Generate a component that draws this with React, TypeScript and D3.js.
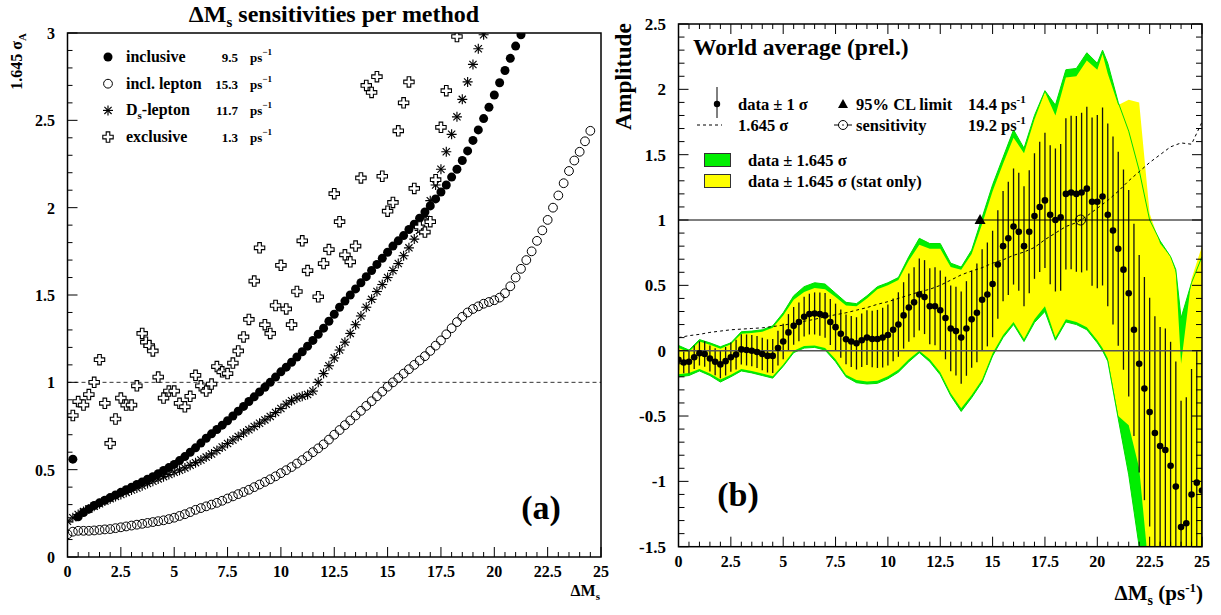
import React from 'react';
import * as d3 from 'd3';

const FONT = "'Liberation Serif','Times New Roman',Times,serif";
const STEP = 0.25;

// ---------- panel (a): sensitivities (1.645 sigma_A) ----------
const inclusiveStart = 0.25;
const inclusiveVals = [
  0.56, 0.23, 0.255, 0.275, 0.295, 0.31, 0.325, 0.34, 0.355, 0.37, 0.385,
  0.4, 0.415, 0.43, 0.445, 0.46, 0.477, 0.495, 0.512, 0.53, 0.552,
  0.575, 0.6, 0.625, 0.652, 0.68, 0.705, 0.73, 0.755, 0.78, 0.807,
  0.835, 0.862, 0.89, 0.917, 0.945, 0.972, 1.0, 1.03, 1.06, 1.087,
  1.115, 1.145, 1.175, 1.207, 1.24, 1.275, 1.31, 1.35, 1.39, 1.43,
  1.465, 1.5, 1.535, 1.57, 1.605, 1.64, 1.675, 1.71, 1.745, 1.78,
  1.81, 1.84, 1.875, 1.905, 1.94, 1.975, 2.01, 2.05, 2.09, 2.13,
  2.175, 2.22, 2.27, 2.325, 2.385, 2.445, 2.51, 2.575, 2.645, 2.715,
  2.785, 2.855, 2.925, 2.99,
];
const inclLeptonStart = 0;
const inclLeptonVals = [
  0.13, 0.145, 0.15, 0.15, 0.15, 0.152, 0.155, 0.158, 0.16, 0.165,
  0.17, 0.175, 0.18, 0.185, 0.19, 0.195, 0.2, 0.205, 0.21, 0.217,
  0.225, 0.235, 0.245, 0.257, 0.27, 0.28, 0.29, 0.3, 0.31, 0.322,
  0.335, 0.347, 0.36, 0.372, 0.385, 0.4, 0.415, 0.43, 0.445, 0.462,
  0.48, 0.497, 0.515, 0.535, 0.555, 0.577, 0.6, 0.622, 0.645, 0.672,
  0.7, 0.727, 0.755, 0.782, 0.81, 0.837, 0.865, 0.892, 0.92, 0.947,
  0.975, 1.0, 1.025, 1.05, 1.075, 1.1, 1.125, 1.15, 1.18, 1.21,
  1.24, 1.275, 1.31, 1.345, 1.375, 1.4, 1.42, 1.435, 1.45, 1.46,
  1.47, 1.485, 1.51, 1.55, 1.6, 1.65, 1.7, 1.75, 1.81, 1.87,
  1.93, 2.0, 2.07, 2.14, 2.21, 2.27, 2.32, 2.38, 2.44,
];
const dsLeptonStart = 0;
const dsLeptonVals = [
  0.205, 0.225, 0.243, 0.26, 0.275, 0.29, 0.305, 0.32, 0.334, 0.346,
  0.358, 0.37, 0.383, 0.395, 0.408, 0.421, 0.434, 0.447, 0.46, 0.472,
  0.485, 0.497, 0.51, 0.525, 0.54, 0.555, 0.572, 0.59, 0.61, 0.63,
  0.65, 0.67, 0.69, 0.71, 0.728, 0.747, 0.766, 0.785, 0.805, 0.827,
  0.85, 0.875, 0.895, 0.91, 0.92, 0.93, 0.95, 1.0, 1.05, 1.095,
  1.14, 1.185, 1.23, 1.28, 1.33, 1.38, 1.43, 1.475, 1.52, 1.56,
  1.6, 1.64, 1.68, 1.725, 1.77, 1.82, 1.87, 1.95, 2.04, 2.13,
  2.22, 2.32, 2.42, 2.52, 2.62, 2.72, 2.82, 2.91, 2.99,
];
const exclusiveX = [
  0.25, 0.5, 0.75, 1, 1.25, 1.5, 1.75, 2, 2.25, 2.5, 2.75, 3, 3.25, 3.5, 3.67, 3.83, 4,
  4.25, 4.5, 4.75, 5, 5.25, 5.5, 5.75, 6, 6.25, 6.5, 6.75, 7, 7.25, 7.5, 7.75, 8, 8.25,
  8.5, 8.75, 9, 9.25, 9.5, 9.75, 10, 10.25, 10.5, 10.75, 11, 11.25, 11.75, 12, 12.25,
  12.5, 12.75, 13, 13.25, 13.5, 13.75, 14, 14.25, 14.5, 14.75, 15, 15.25, 15.5, 15.75,
  16, 16.25, 16.5, 16.75, 17, 17.25, 17.5, 17.75, 18.25,
];
const exclusiveY = [
  0.81, 0.89, 0.87, 0.93, 1.0, 1.13, 0.88, 0.65, 0.79, 0.91, 0.87, 0.87, 0.98, 1.28, 1.23, 1.21, 1.18,
  1.03, 0.91, 0.95, 0.95, 0.88, 0.86, 0.92, 1.04, 0.98, 0.95, 0.99, 1.09, 1.06, 1.05, 1.11, 1.18, 1.26,
  1.36, 1.58, 1.77, 1.33, 1.28, 1.44, 1.67, 1.42, 1.33, 1.52, 1.81, 1.64, 1.49, 1.68, 1.76,
  2.08, 1.92, 1.73, 1.69, 1.78, 2.17, 2.7, 2.66, 2.75, 2.18, 1.98, 2.03, 2.44, 2.6,
  2.72, 2.11, 1.89, 1.86, 1.92, 2.16, 2.46, 2.67, 2.98,
];
const legendLabelsA = ['inclusive', 'incl. lepton', 'D', 'exclusive'];
const legendValuesA = ['9.5', '15.3', '11.7', '1.3'];
const xTickLabels = [0, 2.5, 5, 7.5, 10, 12.5, 15, 17.5, 20, 22.5, 25];
const yTickLabelsA = [0, 0.5, 1, 1.5, 2, 2.5, 3];
const yTickLabelsB = [-1.5, -1, -0.5, 0, 0.5, 1, 1.5, 2, 2.5];

// ---------- panel (b): amplitude spectrum ----------
const amplitude = [
  -0.07, -0.09, -0.085, -0.05, -0.02, -0.025, -0.06, -0.085, -0.105, -0.08,
  -0.05, -0.03, 0.01, 0.005, 0, -0.01, -0.025, -0.04, -0.04, 0.02,
  0.07, 0.14, 0.19, 0.22, 0.26, 0.28, 0.285, 0.28, 0.27, 0.22,
  0.18, 0.13, 0.087, 0.07, 0.056, 0.08, 0.1, 0.09, 0.09, 0.1,
  0.12, 0.16, 0.2, 0.27, 0.33, 0.37, 0.43, 0.41, 0.34, 0.34,
  0.31, 0.25, 0.17, 0.15, 0.1, 0.17, 0.24, 0.29, 0.39, 0.43,
  0.51, 0.66, 0.8, 0.86, 0.95, 0.91, 0.8, 0.91, 1.03, 1.1,
  1.15, 1.04, 1.0, 1.02, 1.2, 1.21, 1.2, 1.21, 1.24, 1.14,
  1.14, 1.18, 1.04, 0.92, 0.78, 0.62, 0.44, 0.16, -0.1, -0.29,
  -0.47, -0.63, -0.73, -0.76, -0.88, -1.04, -1.35, -1.32, -1.1, -1.01,
  -1.07,
];
const sigma = [
  0.08, 0.083, 0.087, 0.09, 0.093, 0.097, 0.1, 0.103, 0.106, 0.109,
  0.112, 0.114, 0.116, 0.118, 0.12, 0.122, 0.124, 0.127, 0.13, 0.133,
  0.136, 0.14, 0.144, 0.148, 0.152, 0.156, 0.161, 0.166, 0.171, 0.176,
  0.18, 0.185, 0.19, 0.195, 0.2, 0.205, 0.21, 0.216, 0.222, 0.228,
  0.234, 0.24, 0.247, 0.254, 0.261, 0.268, 0.276, 0.283, 0.29, 0.298,
  0.304, 0.316, 0.328, 0.34, 0.353, 0.362, 0.371, 0.378, 0.386, 0.397,
  0.407, 0.415, 0.422, 0.433, 0.444, 0.452, 0.459, 0.47, 0.48, 0.498,
  0.517, 0.532, 0.547, 0.562, 0.578, 0.587, 0.596, 0.611, 0.626, 0.644,
  0.663, 0.681, 0.699, 0.72, 0.742, 0.766, 0.79, 0.812, 0.833, 0.854,
  0.875, 0.894, 0.912, 0.93, 0.948, 0.957, 0.967, 0.964, 0.96, 1.01,
  1.06,
];
const bandX = [
  0, 0.5, 1, 1.5, 2, 2.5, 3, 3.5, 4, 4.5, 5, 5.5, 6, 6.5, 7, 7.5, 8, 8.5, 9, 9.5,
  10, 10.5, 11, 11.5, 12, 12.5, 13, 13.5, 14, 14.5, 15, 15.5, 16, 16.5, 17, 17.5, 18, 18.5,
  19, 19.5, 20, 20.25, 20.5, 21, 21.5, 22, 22.5, 23, 23.5, 23.75, 24, 24.5, 25,
];
const greenHi = [
  0.04, 0.005, 0.085, 0.06, 0.03, 0.06, 0.145, 0.15, 0.16, 0.19, 0.29, 0.42, 0.49, 0.52, 0.51, 0.44, 0.37, 0.36, 0.42, 0.49,
  0.52, 0.56, 0.72, 0.86, 0.82, 0.82, 0.67, 0.64, 0.77, 1.02, 1.27, 1.48, 1.69, 1.55, 1.8, 1.99, 1.88, 2.15,
  2.16, 2.28, 2.2, 2.3, 2.2, 1.9, 1.68, 1.38, 1.0, 0.84, 0.72, 0.62, 0.25, 0.52, 0.72,
];
const yellowHi = [
  0.02, -0.01, 0.07, 0.045, 0.015, 0.05, 0.13, 0.135, 0.145, 0.175, 0.27, 0.39, 0.45, 0.48, 0.47, 0.41, 0.345, 0.34, 0.4, 0.47,
  0.5, 0.54, 0.69, 0.81, 0.78, 0.78, 0.64, 0.62, 0.74, 0.97, 1.22, 1.43, 1.63, 1.51, 1.77, 1.98, 1.8, 2.09,
  2.1, 2.22, 2.15, 2.27, 2.12, 1.88, 1.92, 1.9, 1.05, 0.82, 0.72, 0.6, -0.1, 0.55, 0.8,
];
const yellowLo = [
  -0.18, -0.17, -0.14, -0.175, -0.22, -0.185, -0.14, -0.155, -0.175, -0.195, -0.105, 0.0, 0.035, 0.04, 0.02, -0.065, -0.185, -0.225, -0.235, -0.23,
  -0.195, -0.145, -0.065, 0.0, -0.065, -0.165, -0.325, -0.44, -0.34, -0.22, -0.02, 0.12, 0.22, 0.09, 0.24, 0.34, 0.1, 0.24,
  0.22, 0.18, 0.08, 0.02, -0.06, -0.5, -0.57, -0.9, -1.75, -2.6, -2.6, -2.6, -2.6, -2.6, -2.6,
];
const greenLo = [
  -0.2, -0.19, -0.155, -0.19, -0.24, -0.2, -0.155, -0.17, -0.19, -0.21, -0.12, -0.015, 0.02, 0.025, 0.005, -0.085, -0.2, -0.245, -0.255, -0.25,
  -0.215, -0.165, -0.085, -0.015, -0.085, -0.185, -0.345, -0.465, -0.36, -0.24, -0.04, 0.1, 0.2, 0.07, 0.215, 0.3, 0.08, 0.22,
  0.2, 0.16, 0.06, 0.0, -0.08, -0.52, -0.95, -1.5, -2.1, -2.6, -2.6, -2.6, -2.6, -2.6, -2.6,
];
const dashStep = 0.5;
const sens1645 = [
  0.1, 0.115, 0.125, 0.14, 0.15, 0.16, 0.165, 0.17, 0.175, 0.185,
  0.195, 0.21, 0.225, 0.24, 0.26, 0.275, 0.29, 0.31, 0.33, 0.355,
  0.375, 0.4, 0.425, 0.45, 0.47, 0.5, 0.54, 0.58, 0.61, 0.635,
  0.67, 0.695, 0.73, 0.755, 0.79, 0.85, 0.9, 0.95, 0.98, 1.03,
  1.09, 1.15, 1.22, 1.3, 1.37, 1.44, 1.5, 1.56, 1.59, 1.58,
  1.75,
];
const limit95 = 14.4;
const sensitivityPoint = 19.2;

const Sub = ({ children, size, dy }: any) => (
  <tspan fontSize={size} dy={dy}>{children}</tspan>
);

const crossPath = (s: number, w: number) =>
  `M${-w},${-s}L${w},${-s}L${w},${-w}L${s},${-w}L${s},${w}L${w},${w}L${w},${s}L${-w},${s}L${-w},${w}L${-s},${w}L${-s},${-w}L${-w},${-w}Z`;

const Star = ({ x, y, r = 5 }: any) => {
  const d = r * 0.72;
  return (
    <g stroke="#000" strokeWidth={1.15}>
      <line x1={x} y1={y - r} x2={x} y2={y + r} />
      <line x1={x - r} y1={y} x2={x + r} y2={y} />
      <line x1={x - d} y1={y - d} x2={x + d} y2={y + d} />
      <line x1={x - d} y1={y + d} x2={x + d} y2={y - d} />
    </g>
  );
};

export default function App() {
  const xA = d3.scaleLinear().domain([0, 25]).range([67.5, 601]);
  const yA = d3.scaleLinear().domain([0, 3]).range([557, 33]);
  const xB = d3.scaleLinear().domain([0, 25]).range([678.5, 1202]);
  const yB = d3.scaleLinear().domain([-1.5, 2.5]).range([546.7, 24]);

  const bold = { fontFamily: FONT, fontWeight: 'bold' as const };

  const yMinorA = d3.range(0, 3.0001, 0.1);
  const xMinor = d3.range(0, 25.0001, 0.5);
  const yMinorB = d3.range(-1.5, 2.5001, 0.1);
  const isMajor = (v: number, m: number) => Math.abs(v / m - Math.round(v / m)) < 1e-6;

  const idx = bandX.map((_, i) => i);
  const areaGreen = d3.area<number>().x((i) => xB(bandX[i])).y0((i) => yB(greenLo[i])).y1((i) => yB(greenHi[i]))(idx) || '';
  const areaYellow = d3.area<number>().x((i) => xB(bandX[i])).y0((i) => yB(yellowLo[i])).y1((i) => yB(yellowHi[i]))(idx) || '';
  const greenHiLine = d3.line<number>().x((i) => xB(bandX[i])).y((i) => yB(greenHi[i]))(idx) || '';
  const greenLoLine = d3.line<number>().x((i) => xB(bandX[i])).y((i) => yB(greenLo[i]))(idx) || '';
  const dashLine = d3.line<number>().x((_, i) => xB(i * dashStep)).y((v) => yB(v))(sens1645) || '';

  const sx = xB(sensitivityPoint);
  const sy = yB(1);
  const lx = xB(limit95);
  const ly = yB(1);

  return (
    <svg width={1221} height={615} style={{ position: 'absolute', left: 0, top: 0, background: '#fff' }}>
      <defs>
        <clipPath id="clipA"><rect x={67.5} y={33} width={533.5} height={524} /></clipPath>
        <clipPath id="clipB"><rect x={678.5} y={24} width={523.5} height={522.7} /></clipPath>
      </defs>
      <rect x={0} y={0} width={1221} height={615} fill="#fff" />

      {/* ================= Panel (a) ================= */}
      <text x={334} y={22} textAnchor="middle" fontSize={24} {...bold}>
        ΔM<Sub size={15} dy={5}>s</Sub><tspan dy={-5}> sensitivities per method</tspan>
      </text>
      <line x1={xA(0)} x2={xA(25)} y1={yA(1)} y2={yA(1)} stroke="#333" strokeWidth={1} strokeDasharray="4,3" />
      <g clipPath="url(#clipA)">
        {inclLeptonVals.map((v, i) => (
          <circle key={'il' + i} cx={xA(inclLeptonStart + i * STEP)} cy={yA(v)} r={4.4} fill="none" stroke="#000" strokeWidth={1} />
        ))}
        {dsLeptonVals.map((v, i) => (
          <Star key={'ds' + i} x={xA(dsLeptonStart + i * STEP)} y={yA(v)} />
        ))}
        {inclusiveVals.map((v, i) => (
          <circle key={'in' + i} cx={xA(inclusiveStart + i * STEP)} cy={yA(v)} r={4.5} fill="#000" />
        ))}
        {exclusiveX.map((x, i) => (
          <path key={'ex' + i} d={crossPath(5.2, 1.8)} transform={`translate(${xA(x)},${yA(exclusiveY[i])})`} fill="#fff" stroke="#000" strokeWidth={1.1} />
        ))}
      </g>
      <rect x={67.5} y={33} width={533.5} height={524} fill="none" stroke="#000" strokeWidth={1.5} />
      {yMinorA.map((v, i) => (
        <line key={'ya' + i} x1={67.5} x2={67.5 + (isMajor(v, 0.5) ? 10 : 5)} y1={yA(v)} y2={yA(v)} stroke="#000" strokeWidth={1} />
      ))}
      {xMinor.map((v, i) => (
        <line key={'xa' + i} x1={xA(v)} x2={xA(v)} y1={557} y2={557 - (isMajor(v, 2.5) ? 10 : 5)} stroke="#000" strokeWidth={1} />
      ))}
      {yTickLabelsA.map((v) => (
        <text key={'yla' + v} x={55} y={yA(v) + 6} textAnchor="end" fontSize={16} {...bold}>{String(v)}</text>
      ))}
      {xTickLabels.map((v) => (
        <text key={'xla' + v} x={xA(v)} y={577} textAnchor="middle" fontSize={16} {...bold}>{String(v)}</text>
      ))}
      <text x={600} y={596} textAnchor="end" fontSize={16} {...bold}>
        ΔM<Sub size={11} dy={4}>s</Sub>
      </text>
      <text transform="translate(22,33) rotate(-90)" textAnchor="end" fontSize={16} {...bold}>
        1.645 σ<Sub size={11} dy={4}>A</Sub>
      </text>
      {legendLabelsA.map((lab, i) => {
        const cy = 57 + i * 26.7;
        const mx = 108;
        return (
          <g key={'lega' + i}>
            {i === 0 && <circle cx={mx} cy={cy} r={4.5} fill="#000" />}
            {i === 1 && <circle cx={mx} cy={cy} r={4.4} fill="none" stroke="#000" />}
            {i === 2 && <Star x={mx} y={cy} />}
            {i === 3 && <path d={crossPath(5.2, 1.8)} transform={`translate(${mx},${cy})`} fill="#fff" stroke="#000" strokeWidth={1.1} />}
            <text x={126} y={cy + 5} fontSize={16} {...bold}>
              {i === 2 ? (
                <>D<Sub size={11} dy={4}>s</Sub><tspan dy={-4}>-lepton</tspan></>
              ) : lab}
            </text>
            <text x={238} y={cy + 5} textAnchor="end" fontSize={13} {...bold}>{legendValuesA[i]}</text>
            <text x={250} y={cy + 5} fontSize={13} {...bold}>
              ps<Sub size={9} dy={-7}>−1</Sub>
            </text>
          </g>
        );
      })}
      <text x={541} y={519} textAnchor="middle" fontSize={34} {...bold}>(a)</text>

      {/* ================= Panel (b) ================= */}
      <g clipPath="url(#clipB)">
        <path d={areaGreen} fill="#00ee00" />
        <path d={areaYellow} fill="#ffff00" />
        <path d={greenHiLine} fill="none" stroke="#00dd00" strokeWidth={1} />
        <path d={greenLoLine} fill="none" stroke="#00dd00" strokeWidth={1} />
        {amplitude.map((a, i) => (
          <line key={'eb' + i} x1={xB(i * STEP)} x2={xB(i * STEP)} y1={yB(a - sigma[i])} y2={yB(a + sigma[i])} stroke="#111" strokeWidth={1.3} />
        ))}
        <line x1={xB(0)} x2={xB(25)} y1={yB(0)} y2={yB(0)} stroke="#555" strokeWidth={1.6} />
        <line x1={xB(0)} x2={xB(25)} y1={yB(1)} y2={yB(1)} stroke="#000" strokeWidth={1} />
        <path d={dashLine} fill="none" stroke="#000" strokeWidth={1} strokeDasharray="3,3" />
        {amplitude.map((a, i) => (
          <circle key={'pt' + i} cx={xB(i * STEP)} cy={yB(a)} r={3.3} fill="#000" />
        ))}
        <path d={`M${lx},${ly - 6}L${lx + 5.5},${ly + 4}L${lx - 5.5},${ly + 4}Z`} fill="#000" />
        <circle cx={sx} cy={sy} r={5} fill="none" stroke="#000" strokeWidth={1} />
        <circle cx={sx} cy={sy} r={0.8} fill="#000" />
      </g>
      <rect x={678.5} y={24} width={523.5} height={522.7} fill="none" stroke="#000" strokeWidth={1.5} />
      {yMinorB.map((v, i) => {
        const L = isMajor(v, 0.5) ? 10 : 6;
        return (
          <g key={'yb' + i} stroke="#000" strokeWidth={1}>
            <line x1={678.5} x2={678.5 + L} y1={yB(v)} y2={yB(v)} />
            <line x1={1202} x2={1202 - L} y1={yB(v)} y2={yB(v)} />
          </g>
        );
      })}
      {xMinor.map((v, i) => {
        const L = isMajor(v, 2.5) ? 10 : 5;
        return (
          <g key={'xb' + i} stroke="#000" strokeWidth={1}>
            <line x1={xB(v)} x2={xB(v)} y1={546.7} y2={546.7 - L} />
            <line x1={xB(v)} x2={xB(v)} y1={24} y2={24 + L} />
          </g>
        );
      })}
      {yTickLabelsB.map((v) => (
        <text key={'ylb' + v} x={666} y={yB(v) + 6} textAnchor="end" fontSize={17} {...bold}>{String(v)}</text>
      ))}
      {xTickLabels.map((v) => (
        <text key={'xlb' + v} x={xB(v)} y={567} textAnchor="middle" fontSize={16} {...bold}>{String(v)}</text>
      ))}
      <text x={1203} y={600} textAnchor="end" fontSize={21} {...bold}>
        ΔM<Sub size={14} dy={5}>s</Sub><tspan dy={-5}> (ps</tspan><Sub size={13} dy={-8}>-1</Sub><tspan dy={8}>)</tspan>
      </text>
      <text transform="translate(631,23) rotate(-90)" textAnchor="end" fontSize={23.5} {...bold}>Amplitude</text>
      <text x={693} y={55} fontSize={23.5} {...bold}>World average (prel.)</text>

      {/* legend b */}
      <line x1={717} x2={717} y1={87} y2={118} stroke="#000" strokeWidth={1} />
      <circle cx={717} cy={104} r={3.2} fill="#000" />
      <text x={738} y={110} fontSize={16.5} {...bold}>data ± 1 σ</text>
      <path d="M843,99L848,108L838,108Z" fill="#000" />
      <text x={856} y={110} fontSize={16.5} {...bold}>95% CL limit</text>
      <text x={968} y={110} fontSize={16.5} {...bold}>14.4 ps<Sub size={11} dy={-7}>-1</Sub></text>
      <line x1={697} x2={722} y1={125} y2={125} stroke="#000" strokeWidth={1} strokeDasharray="3,3" />
      <text x={738} y={131} fontSize={16.5} {...bold}>1.645 σ</text>
      <line x1={834} x2={852} y1={125} y2={125} stroke="#000" strokeWidth={1} />
      <circle cx={843} cy={125} r={4.5} fill="#fff" stroke="#000" strokeWidth={1} />
      <circle cx={843} cy={125} r={0.8} fill="#000" />
      <text x={856} y={131} fontSize={16.5} {...bold}>sensitivity</text>
      <text x={968} y={131} fontSize={16.5} {...bold}>19.2 ps<Sub size={11} dy={-7}>-1</Sub></text>
      <rect x={704.5} y={153.5} width={26} height={13} fill="#00ee00" stroke="#333" strokeWidth={1} />
      <text x={748} y={166} fontSize={16.5} {...bold}>data ± 1.645 σ</text>
      <rect x={704.5} y={174.5} width={26} height={13} fill="#ffff00" stroke="#333" strokeWidth={1} />
      <text x={748} y={187} fontSize={16.5} {...bold}>data ± 1.645 σ (stat only)</text>
      <text x={738} y={506} textAnchor="middle" fontSize={34} {...bold}>(b)</text>
    </svg>
  );
}
